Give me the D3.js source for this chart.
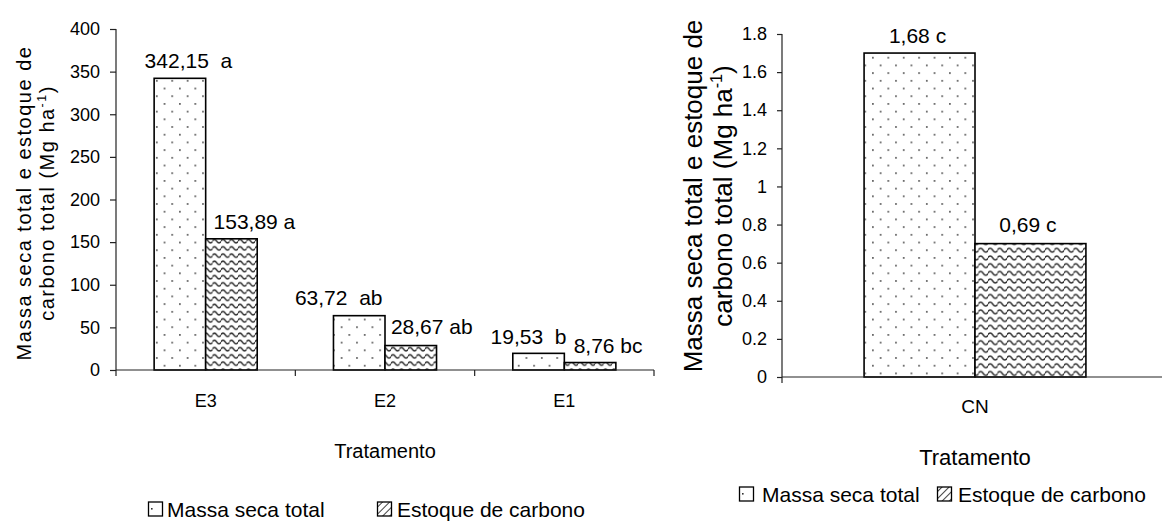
<!DOCTYPE html>
<html><head><meta charset="utf-8">
<script src="https://cdn.jsdelivr.net/npm/d3@7"></script>
<style>
body{margin:0;background:#fff}
text{font-family:"Liberation Sans",Arial,sans-serif;fill:#000}
</style>
</head><body>
<svg id="c" width="1162" height="521"></svg>
<script>
// ---------- data ----------
const seriesNames = ["Massa seca total", "Estoque de carbono"];

const categoriesLeft = ["E3", "E2", "E1"];
const massaLeft = [342.15, 63.72, 19.53];
const carbonoLeft = [153.89, 28.67, 8.76];
const massaLabelsLeft = ["342,15  a", "63,72  ab", "19,53  b"];
const carbonoLabelsLeft = ["153,89 a", "28,67 ab", "8,76 bc"];
const ticksLeft = [0, 50, 100, 150, 200, 250, 300, 350, 400];
const tickLabelsLeft = ["0", "50", "100", "150", "200", "250", "300", "350", "400"];

const categoriesRight = ["CN"];
const massaRight = [1.70];
const carbonoRight = [0.70];
const massaLabelsRight = ["1,68 c"];
const carbonoLabelsRight = ["0,69 c"];
const ticksRight = [0, 0.2, 0.4, 0.6, 0.8, 1, 1.2, 1.4, 1.6, 1.8];
const tickLabelsRight = ["0", "0.2", "0.4", "0.6", "0.8", "1", "1.2", "1.4", "1.6", "1.8"];

const xTitle = "Tratamento";
const yTitle1 = "Massa seca total e estoque de";
const yTitle2 = "carbono total (Mg ha";

// ---------- layout (not data) ----------
const svg = d3.select("#c");
const defs = svg.append("defs");

const dots = defs.append("pattern").attr("id", "dots").attr("patternUnits", "userSpaceOnUse")
  .attr("width", 15.4).attr("height", 15.4);
dots.append("rect").attr("width", 15.4).attr("height", 15.4).attr("fill", "#fff");
dots.append("rect").attr("x", 2).attr("y", 3).attr("width", 1.6).attr("height", 1.6).attr("fill", "#444");
dots.append("rect").attr("x", 9.7).attr("y", 10.7).attr("width", 1.6).attr("height", 1.6).attr("fill", "#444");

function makeWave(id, w, h, amp) {
  const p = defs.append("pattern").attr("id", id).attr("patternUnits", "userSpaceOnUse")
    .attr("width", w).attr("height", h);
  p.append("rect").attr("width", w).attr("height", h).attr("fill", "#fff");
  const m = h / 2;
  p.append("path").attr("d", `M-0.5,${m} Q${w / 4},${m - 2 * amp} ${w / 2},${m} T${w + 0.5},${m}`)
    .attr("fill", "none").attr("stroke", "#333").attr("stroke-width", 1.4);
}
makeWave("waveL", 8.5, 7.2, 1.7);
makeWave("waveR", 9.5, 7.7, 1.9);

const legHatch = defs.append("pattern").attr("id", "legHatch").attr("patternUnits", "userSpaceOnUse")
  .attr("width", 5).attr("height", 5).attr("patternTransform", "rotate(45)");
legHatch.append("rect").attr("width", 5).attr("height", 5).attr("fill", "#fff");
legHatch.append("line").attr("x1", 0).attr("x2", 0).attr("y1", 0).attr("y2", 5).attr("stroke", "#444").attr("stroke-width", 2);

function drawChart(cfg) {
  const fills = ["url(#dots)", `url(#${cfg.wave})`];
  const g = svg.append("g");
  const y = d3.scaleLinear().domain(cfg.domain).range([cfg.y0, cfg.y1]);
  const x0 = d3.scaleBand().domain(cfg.categories).range([cfg.xa, cfg.xb]).paddingInner(0).paddingOuter(0);
  const x1 = d3.scaleBand().domain(seriesNames).range([0, x0.bandwidth()]).paddingInner(0).paddingOuter(0.74);

  // y axis
  const ya = g.append("g").attr("transform", `translate(${cfg.xa},0)`)
    .call(d3.axisLeft(y).tickValues(cfg.ticks).tickSize(cfg.tickLen).tickPadding(10)
      .tickFormat((d, i) => cfg.tickLabels[i]));
  ya.selectAll("path,line").attr("stroke", "#222").attr("stroke-width", 1.2);
  ya.select(".domain").attr("d", `M0,${cfg.y0}V${cfg.y1}`);
  ya.selectAll("text").attr("font-size", cfg.tickFont).attr("font-family", '"Liberation Sans",Arial,sans-serif');

  // bars
  const rows = cfg.categories.map((c, i) => ({ c, vals: [cfg.massa[i], cfg.carbono[i]], labs: [cfg.massaLabels[i], cfg.carbonoLabels[i]], i }));
  rows.forEach(r => {
    seriesNames.forEach((s, k) => {
      const bx = x0(r.c) + x1(s);
      g.append("rect").attr("x", bx).attr("y", y(r.vals[k]))
        .attr("width", x1.bandwidth()).attr("height", y(0) - y(r.vals[k]))
        .attr("fill", fills[k]).attr("stroke", "#000").attr("stroke-width", 1.6);
      g.append("text").attr("x", bx + x1.bandwidth() / 2 + cfg.nudge[k][r.i])
        .attr("y", y(r.vals[k]) - cfg.labelGap[k][r.i])
        .attr("text-anchor", "middle").attr("font-size", cfg.labelFont)
        .style("white-space", "pre").text(r.labs[k]);
    });
  });

  // x axis
  g.append("line").attr("x1", cfg.xa).attr("x2", cfg.xb).attr("y1", y(0)).attr("y2", y(0))
    .attr("stroke", "#222").attr("stroke-width", 1.2);
  const bounds = cfg.categories.map(c => x0(c)).concat([cfg.xb]);
  bounds.forEach(b => g.append("line").attr("x1", b).attr("x2", b).attr("y1", y(0)).attr("y2", y(0) + 6)
    .attr("stroke", "#222").attr("stroke-width", 1.2));
  cfg.categories.forEach(c => g.append("text").attr("x", x0(c) + x0.bandwidth() / 2).attr("y", cfg.catY)
    .attr("text-anchor", "middle").attr("font-size", cfg.catFont).text(c));

  // x title
  g.append("text").attr("x", cfg.xTitleX).attr("y", cfg.xTitleY).attr("text-anchor", "middle")
    .attr("font-size", cfg.xTitleFont).text(xTitle);

  // y title
  g.append("text").attr("transform", `translate(${cfg.yt1},${cfg.ytc}) rotate(-90)`)
    .attr("text-anchor", "middle").attr("font-size", cfg.yTitleFont).style("letter-spacing", cfg.yTitleSpacing + "px")
    .text(yTitle1);
  const t2 = g.append("text").attr("transform", `translate(${cfg.yt2},${cfg.ytc}) rotate(-90)`)
    .attr("text-anchor", "middle").attr("font-size", cfg.yTitleFont).style("letter-spacing", cfg.yTitleSpacing + "px");
  t2.append("tspan").text(yTitle2);
  t2.append("tspan").attr("font-size", cfg.yTitleFont * 0.62).attr("dy", -cfg.yTitleFont * 0.4).text("-1");
  t2.append("tspan").attr("dy", cfg.yTitleFont * 0.4).text(")");

  // legend
  cfg.legend.forEach((L, k) => {
    g.append("rect").attr("x", L.bx).attr("y", cfg.legY - 14).attr("width", 14).attr("height", 14)
      .attr("fill", k === 0 ? "#fff" : "url(#legHatch)").attr("stroke", "#000").attr("stroke-width", 1.3);
    if (k === 0) g.append("rect").attr("x", L.bx + 2.5).attr("y", cfg.legY - 8).attr("width", 1.6).attr("height", 1.6).attr("fill", "#333");
    g.append("text").attr("x", L.tx).attr("y", cfg.legY + 1).attr("font-size", cfg.legFont).text(seriesNames[k]);
  });
}

drawChart({
  categories: categoriesLeft, massa: massaLeft, carbono: carbonoLeft,
  massaLabels: massaLabelsLeft, carbonoLabels: carbonoLabelsLeft,
  ticks: ticksLeft, tickLabels: tickLabelsLeft, wave: "waveL",
  domain: [0, 400], y0: 370, y1: 29, xa: 116, xb: 654, tickLen: 6,
  tickFont: 18, labelFont: 21, catFont: 18, catY: 407,
  nudge: [[8.5, -20.5, -10], [23, 21, 18]],
  labelGap: [[10, 11, 9], [10, 12, 10]],
  xTitleX: 385, xTitleY: 458, xTitleFont: 20,
  yt1: 31, yt2: 54, ytc: 203, yTitleFont: 20, yTitleSpacing: 1.5,
  legY: 516, legFont: 21,
  legend: [{ bx: 148.5, tx: 167 }, { bx: 377.5, tx: 397 }]
});

drawChart({
  categories: categoriesRight, massa: massaRight, carbono: carbonoRight,
  massaLabels: massaLabelsRight, carbonoLabels: carbonoLabelsRight,
  ticks: ticksRight, tickLabels: tickLabelsRight, wave: "waveR",
  domain: [0, 1.8], y0: 377, y1: 34, xa: 782, xb: 1168, tickLen: 5,
  tickFont: 18, labelFont: 21, catFont: 19, catY: 413,
  nudge: [[-2], [-2.5]],
  labelGap: [[10], [12]],
  xTitleX: 975, xTitleY: 465, xTitleFont: 22,
  yt1: 702, yt2: 732, ytc: 196, yTitleFont: 26, yTitleSpacing: 0,
  legY: 501, legFont: 21,
  legend: [{ bx: 739.5, tx: 762 }, { bx: 937.5, tx: 958 }]
});
</script>
</body></html>
